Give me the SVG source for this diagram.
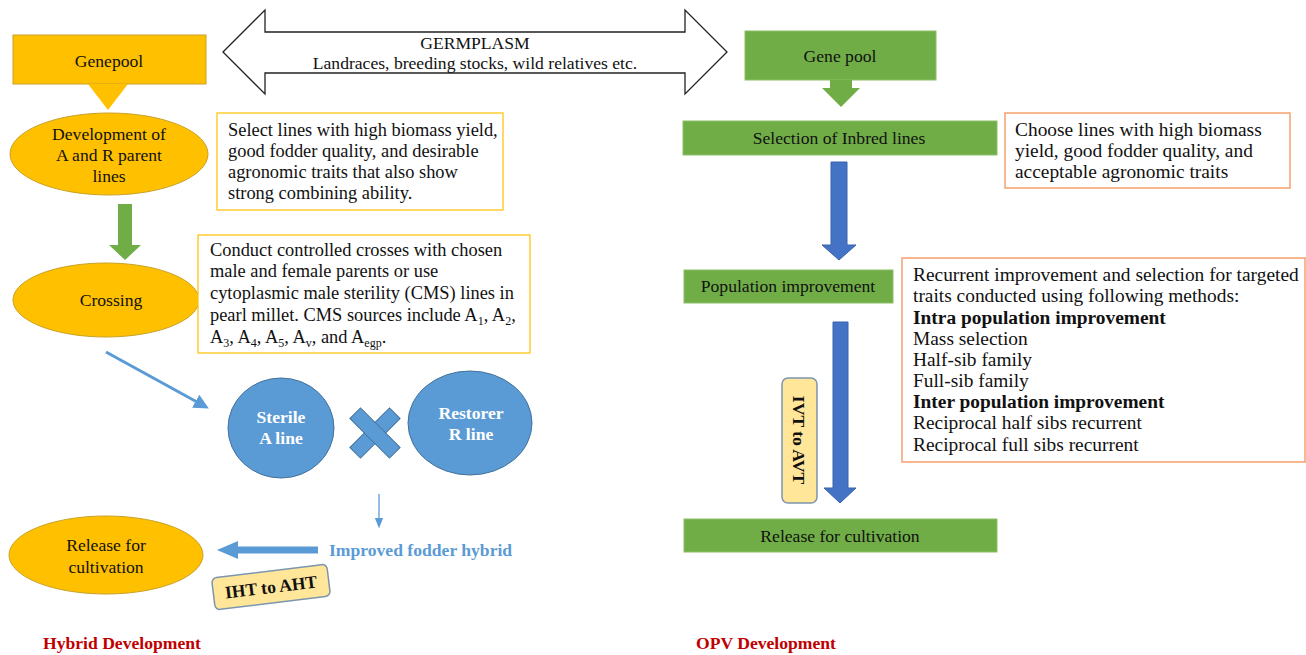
<svg xmlns="http://www.w3.org/2000/svg" width="1306" height="655" viewBox="0 0 1306 655">
<style>
text{font-family:"Liberation Serif","Times New Roman",serif;font-size:17.6px;fill:#111}
.c{text-anchor:middle}
.b{font-weight:bold}
.nl{font-size:18.4px}
.nr{font-size:19.4px}
.sub{font-size:12px}
.yel{fill:#FFC000;stroke:#C9A227;stroke-width:1}
.grn{fill:#70AD47;stroke:#8CC068;stroke-width:1}
.bl{fill:#5B9BD5;stroke:#41719C;stroke-width:1}
.dk{fill:#4472C4;stroke:#3A62AC;stroke-width:1}
.note{fill:#fff;stroke:#FFC000;stroke-width:1.2}
.onote{fill:#fff;stroke:#F4A06E;stroke-width:1.5}
.tag{fill:#FFE699;stroke:#7C95AE;stroke-width:1.5}
.red{fill:#C00000;font-weight:bold}
.wt{fill:#fff;font-weight:bold}
</style>
<defs>
<marker id="ah" viewBox="0 0 10 10" refX="1" refY="5" markerWidth="5" markerHeight="5" orient="auto"><path d="M0,0 L10,5 L0,10 z" fill="#5B9BD5"/></marker>
<marker id="ahs" viewBox="0 0 10 10" refX="1" refY="5" markerWidth="8" markerHeight="8" orient="auto"><path d="M0,1 L10,5 L0,9 z" fill="#5B9BD5"/></marker>
</defs>

<g id="germplasm">
<polygon points="223,52 265,10 265,32 685,32 685,10 727,52 685,94 685,73 265,73 265,94" fill="#fff" stroke="#222" stroke-width="1.3"/>
<text class="c" x="475" y="49">GERMPLASM</text>
<text class="c" x="475" y="69">Landraces, breeding stocks, wild relatives etc.</text>
</g>

<!-- Hybrid side -->
<g id="genepool-left">
<rect class="yel" x="13" y="35" width="193" height="49"/>
<text class="c" x="109" y="67">Genepool</text>
</g>
<g id="dev-parents">
<ellipse class="yel" cx="109" cy="154" rx="99" ry="41"/>
<text class="c" x="109" y="140">Development of</text>
<text class="c" x="109" y="161">A and R parent</text>
<text class="c" x="109" y="182">lines</text>
</g>
<g id="note-select" class="nl">
<rect class="note" x="217" y="113" width="286" height="97"/>
<text class="nl" x="228" y="136">Select lines with high biomass yield,</text>
<text class="nl" x="228" y="157">good fodder quality, and desirable</text>
<text class="nl" x="228" y="178">agronomic traits that also show</text>
<text class="nl" x="228" y="199">strong combining ability.</text>
</g>
<g id="crossing">
<ellipse class="yel" cx="106" cy="300" rx="93" ry="37"/>
<text class="c" x="111" y="306">Crossing</text>
</g>
<g id="note-cross">
<rect class="note" x="198" y="235" width="332" height="118"/>
<text class="nl" x="210" y="256">Conduct controlled crosses with chosen</text>
<text class="nl" x="210" y="277">male and female parents or use</text>
<text class="nl" x="210" y="299">cytoplasmic male sterility (CMS) lines in</text>
<text class="nl" x="210" y="321">pearl millet. CMS sources include A<tspan class="sub" dy="4">1</tspan><tspan dy="-4">, A</tspan><tspan class="sub" dy="4">2</tspan><tspan dy="-4">,</tspan></text>
<text class="nl" x="210" y="343">A<tspan class="sub" dy="4">3</tspan><tspan dy="-4">, A</tspan><tspan class="sub" dy="4">4</tspan><tspan dy="-4">, A</tspan><tspan class="sub" dy="4">5</tspan><tspan dy="-4">, A</tspan><tspan class="sub" dy="4">v</tspan><tspan dy="-4">, and A</tspan><tspan class="sub" dy="4">egp</tspan><tspan dy="-4">.</tspan></text>
</g>
<g id="sterile">
<ellipse class="bl" cx="281" cy="428" rx="53" ry="50"/>
<text class="c wt" x="281" y="423">Sterile</text>
<text class="c wt" x="281" y="444">A line</text>
</g>
<g id="cross-sign">
<rect class="bl" x="-7.5" y="-28" width="15" height="56" transform="translate(375,433) rotate(45)"/>
<rect class="bl" x="-7.5" y="-28" width="15" height="56" transform="translate(375,433) rotate(-45)"/>
<rect x="-7" y="-7" width="14" height="14" fill="#5B9BD5" transform="translate(375,433) rotate(45)"/>
</g>
<g id="restorer">
<ellipse class="bl" cx="470" cy="423" rx="62" ry="52"/>
<text class="c wt" x="471" y="419">Restorer</text>
<text class="c wt" x="471" y="440">R line</text>
</g>
<g id="improved-hybrid">
<text class="b" x="329" y="556" style="fill:#5B9BD5">Improved fodder hybrid</text>
</g>
<g id="release-left">
<ellipse class="yel" cx="106" cy="555" rx="97" ry="39"/>
<text class="c" x="106" y="551">Release for</text>
<text class="c" x="106" y="573">cultivation</text>
</g>
<g id="iht-aht">
<g transform="translate(271,587) rotate(-7)">
<rect class="tag" x="-58" y="-16" width="116" height="32" rx="5"/>
<text class="c b" x="0" y="6" font-size="18.5">IHT to AHT</text>
</g>
</g>
<text id="hybrid-title" class="red" x="43" y="649">Hybrid Development</text>

<!-- OPV side -->
<g id="genepool-right">
<rect class="grn" x="745" y="31" width="191" height="49"/>
<text class="c" x="840" y="62">Gene pool</text>
</g>
<g id="selection">
<rect class="grn" x="683" y="121" width="314" height="34"/>
<text class="c" x="839" y="144">Selection of Inbred lines</text>
</g>
<g id="note-choose">
<rect class="onote" x="1005" y="113" width="285" height="75"/>
<text class="nr" x="1015" y="136">Choose lines with high biomass</text>
<text class="nr" x="1015" y="157">yield, good fodder quality, and</text>
<text class="nr" x="1015" y="178">acceptable agronomic traits</text>
</g>
<g id="population">
<rect class="grn" x="684" y="270" width="209" height="33"/>
<text class="c" x="788" y="292">Population improvement</text>
</g>
<g id="note-recurrent">
<rect class="onote" x="902" y="258" width="403" height="204"/>
<text class="nr" x="913" y="281">Recurrent improvement and selection for targeted</text>
<text class="nr" x="913" y="302">traits conducted using following methods:</text>
<text class="nr b" x="913" y="324">Intra population improvement</text>
<text class="nr" x="913" y="345">Mass selection</text>
<text class="nr" x="913" y="366">Half-sib family</text>
<text class="nr" x="913" y="387">Full-sib family</text>
<text class="nr b" x="913" y="408">Inter population improvement</text>
<text class="nr" x="913" y="429">Reciprocal half sibs recurrent</text>
<text class="nr" x="913" y="451">Reciprocal full sibs recurrent</text>
</g>
<g id="ivt-avt">
<rect class="tag" x="782" y="378" width="35" height="125" rx="6"/>
<text class="c b" x="0" y="0" font-size="18" transform="translate(793,440) rotate(90)">IVT to AVT</text>
</g>
<g id="release-right">
<rect class="grn" x="684" y="519" width="313" height="33"/>
<text class="c" x="840" y="542">Release for cultivation</text>
</g>
<text id="opv-title" class="red" x="696" y="649">OPV Development</text>

<g id="connectors">
<polygon points="88,84 128,84 108,110" fill="#FFC000"/>
<polygon points="118,204 132,204 132,245 141,245 125,260 109,245 118,245" fill="#70AD47"/>
<line x1="106" y1="352" x2="197" y2="402" stroke="#5B9BD5" stroke-width="3" marker-end="url(#ah)"/>
<line x1="379" y1="494" x2="379" y2="519" stroke="#5B9BD5" stroke-width="1.3" marker-end="url(#ahs)"/>
<rect x="236" y="546.5" width="82" height="7" fill="#5B9BD5"/>
<polygon points="238,541 217,550 238,559" fill="#5B9BD5"/>
<polygon points="830,80 852,80 852,88 860,88 841,107 822,88 830,88" fill="#70AD47"/>
<polygon class="dk" points="831,162 847,162 847,245 856,245 839,260 822,245 831,245"/>
<polygon class="dk" points="833,322 848,322 848,488 856,488 840,503 824,488 833,488"/>
</g>
</svg>
